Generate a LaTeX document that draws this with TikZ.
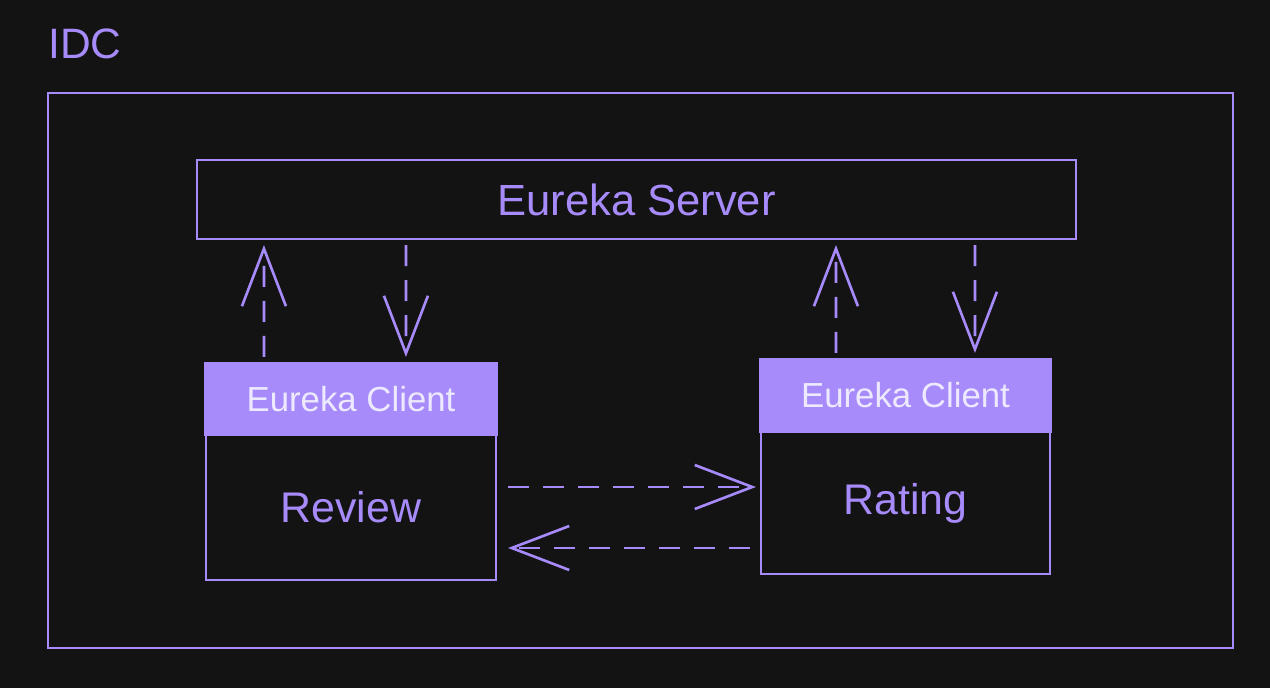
\documentclass[tikz,border=0pt]{standalone}
\usepackage{fontspec}
\setmainfont{Liberation Sans}
\usepackage{tikz}
\usetikzlibrary{arrows.meta}
\usetikzlibrary{positioning}

\definecolor{bgDark}{HTML}{131313}
\definecolor{violetLine}{HTML}{A78BFA}
\definecolor{violetText}{HTML}{EDE9FE}

\begin{document}
\begin{tikzpicture}[scale=1]
\tikzset{
  boxNode/.style={
    rectangle,
                   draw=violetLine,
                   line width=1.2pt,
                   text=violetLine,
                   inner sep=0pt
    },
  headNode/.style={
    boxNode,
                   fill=violetLine,
                   text=violetText,
                   font=\fontsize{19.8}{22}\selectfont
    },
  flowArrow/.style={
    draw=violetLine,
                   line width=1.5pt,
                   dash pattern=on 0.42cm off 0.28cm,
                   -{Straight Barb[length=1.15cm,width=0.88cm]},
                   shorten <=0.1cm,
                   shorten >=0.1cm
    }
}
    \fill[bgDark] (0,0) rectangle (25.4,13.76);
    \useasboundingbox (0,0) rectangle (25.4,13.76);

    \node (frame)[boxNode, minimum width=23.7cm, minimum height=11.1cm] at (12.81,6.35) {};
    \node (idc)[anchor=base west, inner sep=0pt, text=violetLine, font=\fontsize{24.2}{28}\selectfont] at (0.96,12.58) {IDC};

    \node (server)[boxNode, minimum width=17.58cm, minimum height=1.58cm, font=\fontsize{24.8}{28}\selectfont] at (12.73,9.77) {Eureka Server};

    \node (revbody)[boxNode, minimum width=5.8cm, minimum height=2.9cm, font=\fontsize{24.4}{28}\selectfont] at (7.02,3.61) {Review};
    \node (revhead)[headNode, minimum width=5.84cm, minimum height=1.44cm] at (7.02,5.78) {Eureka Client};

    \node (ratbody)[boxNode, minimum width=5.78cm, minimum height=2.84cm, font=\fontsize{24.4}{28}\selectfont] at (18.11,3.70) {Rating};
    \node (rathead)[headNode, minimum width=5.82cm, minimum height=1.46cm] at (18.11,5.85) {Eureka Client};

    \draw[flowArrow] ([xshift=1.2cm]revhead.north west) -- ([xshift=1.36cm]server.south west);
    \draw[flowArrow] ([xshift=4.2cm]server.south west) -- ([xshift=4.04cm]revhead.north west);
    \draw[flowArrow] ([xshift=1.54cm]rathead.north west) -- ([xshift=12.8cm]server.south west);
    \draw[flowArrow] ([xshift=15.58cm]server.south west) -- ([xshift=4.32cm]rathead.north west);

    \draw[flowArrow, shorten <=0.22cm, shorten >=0.08cm] ([yshift=0.41cm]revbody.east) -- ([yshift=0.32cm]ratbody.west);
    \draw[flowArrow, shorten <=0.2cm, shorten >=0.22cm] ([yshift=-0.9cm]ratbody.west) -- ([yshift=-0.81cm]revbody.east);

\end{tikzpicture}
\end{document}
